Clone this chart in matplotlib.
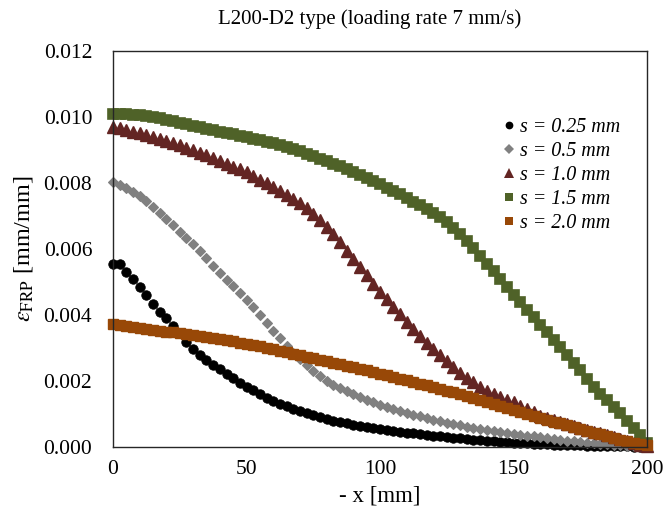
import numpy as np
import matplotlib
matplotlib.use("Agg")
import matplotlib.pyplot as plt

plt.rcParams['font.family'] = ['Liberation Serif', 'DejaVu Serif']
plt.rcParams['mathtext.fontset'] = 'stix'

# distance from loaded end, step 2.5 mm
x_mm = np.arange(0, 200.1, 2.5)

strain_s025 = [
    0.00556, 0.00556, 0.00530, 0.00510, 0.00485, 0.00460, 0.00434, 0.00410, 0.00390, 0.00368,
    0.00344, 0.00318, 0.00298, 0.00280, 0.00265, 0.00250, 0.00236, 0.00222, 0.00208, 0.00195,
    0.00183, 0.00172, 0.00161, 0.00150, 0.00140, 0.00131, 0.00123, 0.00115, 0.00108, 0.00102,
    0.00096, 0.00090, 0.00085, 0.00080, 0.00076, 0.00072, 0.00068, 0.00064, 0.00060, 0.00057,
    0.00054, 0.00051, 0.00048, 0.00046, 0.00043, 0.00041, 0.00038, 0.00036, 0.00034, 0.00032,
    0.00030, 0.00028, 0.00026, 0.00024, 0.00022, 0.00021, 0.00019, 0.00018, 0.00016, 0.00015,
    0.00013, 0.00012, 0.00011, 0.00010, 0.00009, 0.00008, 0.00007, 0.00007, 0.00006, 0.00005,
    0.00005, 0.00004, 0.00004, 0.00003, 0.00003, 0.00002, 0.00002, 0.00002, 0.00001, 0.00001,
    0.00001]

strain_s05 = [
    0.00803, 0.00795, 0.00786, 0.00774, 0.00760, 0.00744, 0.00727, 0.00709, 0.00690, 0.00672,
    0.00653, 0.00634, 0.00615, 0.00594, 0.00572, 0.00550, 0.00527, 0.00507, 0.00487, 0.00467,
    0.00446, 0.00424, 0.00401, 0.00377, 0.00353, 0.00329, 0.00306, 0.00285, 0.00266, 0.00248,
    0.00231, 0.00215, 0.00201, 0.00189, 0.00179, 0.00169, 0.00160, 0.00151, 0.00143, 0.00135,
    0.00128, 0.00122, 0.00115, 0.00109, 0.00103, 0.00098, 0.00093, 0.00088, 0.00083, 0.00079,
    0.00074, 0.00070, 0.00066, 0.00062, 0.00059, 0.00055, 0.00052, 0.00049, 0.00046, 0.00043,
    0.00040, 0.00037, 0.00034, 0.00032, 0.00029, 0.00026, 0.00024, 0.00021, 0.00019, 0.00017,
    0.00015, 0.00013, 0.00011, 0.00010, 0.00008, 0.00007, 0.00005, 0.00004, 0.00003, 0.00002,
    0.00001]

strain_s10 = [
    0.00970, 0.00966, 0.00961, 0.00956, 0.00950, 0.00945, 0.00939, 0.00933, 0.00927, 0.00920,
    0.00914, 0.00907, 0.00900, 0.00892, 0.00884, 0.00875, 0.00866, 0.00858, 0.00849, 0.00841,
    0.00832, 0.00821, 0.00810, 0.00799, 0.00788, 0.00776, 0.00764, 0.00751, 0.00738, 0.00723,
    0.00706, 0.00688, 0.00668, 0.00644, 0.00620, 0.00595, 0.00570, 0.00545, 0.00520, 0.00495,
    0.00470, 0.00447, 0.00424, 0.00402, 0.00380, 0.00358, 0.00337, 0.00316, 0.00296, 0.00278,
    0.00260, 0.00242, 0.00225, 0.00210, 0.00196, 0.00183, 0.00170, 0.00160, 0.00151, 0.00143,
    0.00135, 0.00125, 0.00115, 0.00105, 0.00095, 0.00089, 0.00082, 0.00076, 0.00070, 0.00064,
    0.00058, 0.00052, 0.00046, 0.00041, 0.00035, 0.00029, 0.00023, 0.00018, 0.00012, 0.00007,
    0.00003]

strain_s15 = [
    0.01010, 0.01009, 0.01008, 0.01007, 0.01005, 0.01002, 0.00999, 0.00996, 0.00992, 0.00987,
    0.00983, 0.00978, 0.00973, 0.00969, 0.00964, 0.00960, 0.00955, 0.00951, 0.00947, 0.00942,
    0.00938, 0.00934, 0.00929, 0.00925, 0.00920, 0.00914, 0.00908, 0.00902, 0.00896, 0.00889,
    0.00881, 0.00874, 0.00866, 0.00858, 0.00850, 0.00842, 0.00833, 0.00824, 0.00815, 0.00806,
    0.00796, 0.00786, 0.00776, 0.00766, 0.00755, 0.00743, 0.00732, 0.00720, 0.00710, 0.00696,
    0.00681, 0.00664, 0.00645, 0.00624, 0.00602, 0.00579, 0.00555, 0.00532, 0.00509, 0.00485,
    0.00462, 0.00439, 0.00416, 0.00393, 0.00370, 0.00347, 0.00325, 0.00302, 0.00280, 0.00256,
    0.00232, 0.00207, 0.00183, 0.00162, 0.00142, 0.00122, 0.00102, 0.00080, 0.00058, 0.00035,
    0.00012]

strain_s20 = [
    0.00372, 0.00370, 0.00367, 0.00365, 0.00362, 0.00359, 0.00356, 0.00353, 0.00350, 0.00347,
    0.00344, 0.00341, 0.00338, 0.00335, 0.00332, 0.00329, 0.00326, 0.00323, 0.00320, 0.00316,
    0.00313, 0.00309, 0.00305, 0.00301, 0.00297, 0.00292, 0.00288, 0.00283, 0.00278, 0.00274,
    0.00269, 0.00265, 0.00260, 0.00256, 0.00251, 0.00247, 0.00242, 0.00237, 0.00232, 0.00227,
    0.00222, 0.00217, 0.00212, 0.00207, 0.00202, 0.00197, 0.00192, 0.00187, 0.00182, 0.00177,
    0.00171, 0.00166, 0.00160, 0.00154, 0.00149, 0.00143, 0.00137, 0.00131, 0.00125, 0.00119,
    0.00113, 0.00107, 0.00101, 0.00095, 0.00089, 0.00083, 0.00077, 0.00072, 0.00066, 0.00060,
    0.00054, 0.00049, 0.00043, 0.00038, 0.00032, 0.00027, 0.00022, 0.00017, 0.00013, 0.00009,
    0.00005]

labels = ['s = 0.25 mm', 's = 0.5 mm', 's = 1.0 mm', 's = 1.5 mm', 's = 2.0 mm']
x_ticks = [0, 50, 100, 150, 200]
y_ticks = [0.000, 0.002, 0.004, 0.006, 0.008, 0.010, 0.012]

fig = plt.figure(figsize=(6.65, 5.15), dpi=100)
ax = fig.add_axes([0.170, 0.132, 0.803, 0.769])

# marker, colour, size (pt), edge width
series = [
    (strain_s025, 'o', '#000000', 6.8, 0.6),
    (strain_s05, 'D', '#808080', 5.6, 0.8),
    (strain_s10, '^', '#632523', 8.2, 1.0),
    (strain_s15, 's', '#4F6228', 6.6, 1.2),
    (strain_s20, 's', '#984807', 7.2, 1.0),
]
handles = []
for (vals, mk, col, ms, mew), lab in zip(series, labels):
    ax.plot(x_mm, vals, linestyle='none', marker=mk, color=col,
            markersize=ms, markeredgewidth=mew, markeredgecolor=col,
            clip_on=False)
    # legend keys keep the smaller Excel marker size
    h, = ax.plot([], [], linestyle='none', marker=mk, color=col,
                 markersize=ms * 0.82, markeredgewidth=0, label=lab)
    handles.append(h)

ax.set_xlim(0, 200)
ax.set_ylim(0, 0.012)
ax.set_xticks(x_ticks)
ax.set_yticks(y_ticks)
ax.set_yticklabels([f'{v:.3f}' for v in y_ticks])
ax.tick_params(axis='both', length=0, labelsize=15.5)
ax.tick_params(axis='y', pad=15)
ax.tick_params(axis='x', pad=9)
for sp in ax.spines.values():
    sp.set_color('#262626')
    sp.set_linewidth(1.0)

ax.set_xlabel('- x [mm]', fontsize=16.5, labelpad=5)
ax.set_ylabel(r'$\varepsilon_{\mathrm{FRP}}$ [mm/mm]', fontsize=17.5, labelpad=6)
fig.text(370 / 665, 1 - 19 / 515, 'L200-D2 type (loading rate 7 mm/s)',
         ha='center', va='center', fontsize=15)

leg = ax.legend(handles=handles, loc='upper left', bbox_to_anchor=(0.718, 0.852),
                frameon=False, prop={'style': 'italic', 'size': 14.4},
                handlelength=0.5, handletextpad=0.3, labelspacing=0.26,
                borderaxespad=0)

fig.savefig('out.png', dpi=100)
